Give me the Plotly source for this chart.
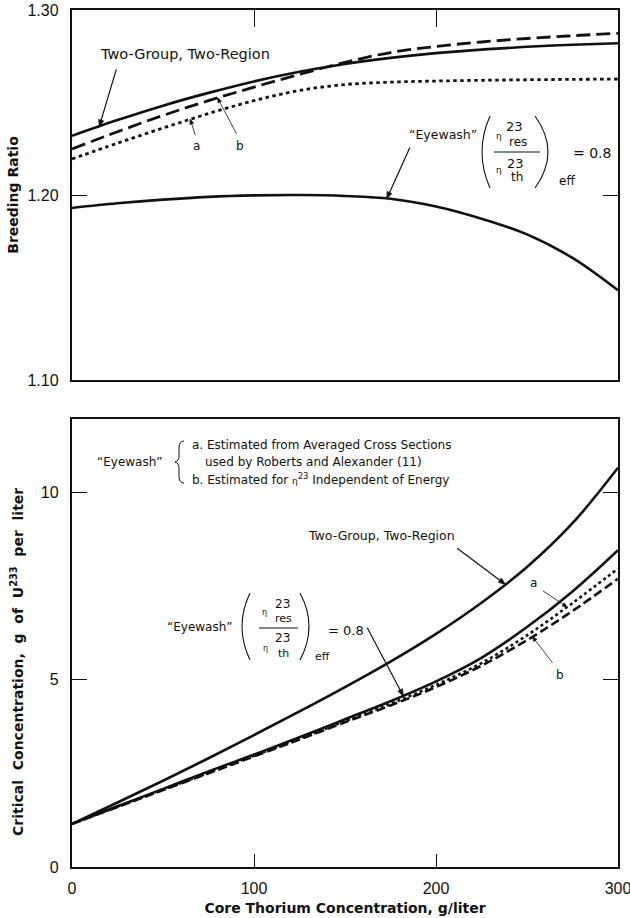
import math
import numpy as np
import plotly.graph_objects as go

# Core thorium concentration, g/liter
thorium = [0, 25, 50, 75, 100, 125, 150, 175, 200, 225, 250, 275, 300]

# Breeding ratio
br_two_group = [1.2320, 1.2405, 1.2483, 1.2552, 1.2614, 1.2666, 1.2708, 1.2741, 1.2767, 1.2786, 1.2801, 1.2812, 1.2820]
br_eyewash_a = [1.2195, 1.2280, 1.2362, 1.2440, 1.2510, 1.2565, 1.2597, 1.2610, 1.2616, 1.2620, 1.2623, 1.2625, 1.2627]
br_eyewash_b = [1.2249, 1.2342, 1.2430, 1.2510, 1.2583, 1.2652, 1.2717, 1.2770, 1.2803, 1.2827, 1.2846, 1.2861, 1.2874]
br_eyewash_08 = [1.1930, 1.1955, 1.1975, 1.1990, 1.1998, 1.2000, 1.1995, 1.1980, 1.1938, 1.1872, 1.1787, 1.1660, 1.1485]

# Critical concentration, g of U-233 per liter
cc_two_group = [1.15, 1.72, 2.30, 2.90, 3.52, 4.15, 4.80, 5.48, 6.22, 7.05, 8.00, 9.17, 10.65]
cc_eyewash_08 = [1.15, 1.62, 2.08, 2.55, 3.00, 3.46, 3.94, 4.42, 4.95, 5.58, 6.40, 7.35, 8.45]
cc_eyewash_a = [1.15, 1.61, 2.06, 2.52, 2.97, 3.42, 3.89, 4.35, 4.86, 5.44, 6.18, 7.04, 7.96]
cc_eyewash_b = [1.15, 1.60, 2.05, 2.50, 2.95, 3.40, 3.86, 4.31, 4.80, 5.37, 6.05, 6.83, 7.69]

br_ticks = [1.10, 1.20, 1.30]
cc_ticks = [0, 5, 10]
x_ticks = [0, 100, 200, 300]

BR_RANGE = [1.10, 1.30]
CC_RANGE = [0, 11.95]
X_RANGE = [0, 300]

W, H = 630, 918
ML, MR, MT, MB = 72, 12, 10, 51
PW, PH = W - ML - MR, H - MT - MB
TOP_PX = (10, 380)     # upper panel, pixel rows (top, bottom)
BOT_PX = (419, 867)    # lower panel, pixel rows (top, bottom)

FONT = "DejaVu Sans"
NUMFONT = "Liberation Sans"
BLACK = "#111111"


def px(x):
    return (x - ML) / PW


def py(y):
    return (H - MB - y) / PH


TOP_DOM = [py(TOP_PX[1]), 1.0]
BOT_DOM = [0.0, py(BOT_PX[0])]

fig = go.Figure()


def add_curve(xs, ys, xa, ya, dash="solid", width=2.6):
    fig.add_trace(go.Scatter(
        x=xs, y=ys, mode="lines", xaxis=xa, yaxis=ya,
        line=dict(color=BLACK, width=width, dash=dash, shape="spline", smoothing=1.0),
        showlegend=False, hoverinfo="skip"))


# upper panel: breeding ratio
add_curve(thorium, br_two_group, "x2", "y2")
add_curve(thorium, br_eyewash_b, "x2", "y2", dash="14px,6px", width=2.8)
add_curve(thorium, br_eyewash_a, "x2", "y2", dash="3.5px,3.5px", width=2.8)
add_curve(thorium, br_eyewash_08, "x2", "y2")

# lower panel: critical concentration
add_curve(thorium, cc_two_group, "x", "y")
add_curve(thorium, cc_eyewash_08, "x", "y")
add_curve(thorium, cc_eyewash_a, "x", "y", dash="3px,3px", width=2.6)
add_curve(thorium, cc_eyewash_b, "x", "y", dash="9px,4px", width=2.6)

annotations = []
shapes = []


def text(s, x, y, size=12, anchor="center", family=FONT, angle=0, bold=False):
    annotations.append(dict(
        text=s, x=px(x), y=py(y), xref="paper", yref="paper",
        xanchor=anchor, yanchor="middle", showarrow=False, textangle=angle,
        font=dict(family=family, size=size, color=BLACK,
                  weight="bold" if bold else "normal")))


def path(points, width=1.1, fill=None):
    d = "M " + " ".join(
        (f"{p} " if isinstance(p, str) else f"{px(p[0]):.5f},{py(p[1]):.5f} ")
        for p in points)
    shp = dict(type="path", path=d.strip(), xref="paper", yref="paper",
               line=dict(color=BLACK, width=width))
    if fill:
        shp["fillcolor"] = fill
    shapes.append(shp)


def to_pixels(xv, v, panel):
    """Pixel position of a data point on the upper or lower panel."""
    x_pix = ML + (xv - X_RANGE[0]) / (X_RANGE[1] - X_RANGE[0]) * PW
    top, bot = TOP_PX if panel == "top" else BOT_PX
    lo, hi = BR_RANGE if panel == "top" else CC_RANGE
    y_pix = bot - (v - lo) / (hi - lo) * (bot - top)
    return x_pix, y_pix


def arrow(xv, series, panel, dx, dy, width=1.2, head=7.0):
    """Leader line from an offset tail to a point on a curve, with a small arrowhead."""
    tx, ty = to_pixels(xv, float(np.interp(xv, thorium, series)), panel)
    sx, sy = tx + dx, ty + dy
    ang = math.atan2(ty - sy, tx - sx)
    wings = [(tx - head * math.cos(ang + s * 0.38), ty - head * math.sin(ang + s * 0.38))
             for s in (1, -1)]
    path([(sx, sy), "L", (tx, ty)], width)
    path([wings[0], "L", (tx, ty), "L", wings[1], "Z"], 0.8, fill=BLACK)


def paren(x_end, apex, y0, y1, width=1.1):
    ctrl = 2 * apex - x_end
    path([(x_end, y0), "Q", (ctrl, (y0 + y1) / 2), (x_end, y1)], width)


def hline(x0, x1, y, width=1.0):
    shapes.append(dict(type="line", x0=px(x0), x1=px(x1), y0=py(y), y1=py(y),
                       xref="paper", yref="paper", line=dict(color=BLACK, width=width)))


# ---- upper panel labels ----
text("Two-Group, Two-Region", 185, 54, 14.5)
arrow(15, br_two_group, "top", 17, -57)
text("a", 196, 146, 12)
arrow(65, br_eyewash_a, "top", 5, 16, width=0.8, head=5)
text("b", 240, 146, 12)
arrow(80, br_eyewash_b, "top", 19, 36, width=0.8, head=5)

text("\u201cEyewash\u201d", 443, 134, 12.5)
paren(490, 482, 116, 188)
paren(535, 548, 116, 188)
text("23", 514, 126, 13)
text("\u03b7", 499, 136, 9)
text("res", 518, 142, 12)
hline(494, 540, 152)
text("23", 515, 163, 13)
text("\u03b7", 499, 170, 9)
text("th", 517, 177, 12)
text("eff", 567, 181, 12)
text("= 0.8", 592, 153, 14)
arrow(173, br_eyewash_08, "top", 23, -51)

# ---- lower panel labels ----
text("\u201cEyewash\u201d", 130, 462, 12)
path([(184, 441), "Q", (179, 441), (179, 448), "L", (179, 456), "Q", (179, 461), (175, 462),
      "Q", (179, 463), (179, 468), "L", (179, 476), "Q", (179, 483), (184, 483)], 1.0)
text("a. Estimated from Averaged Cross Sections", 190, 445, 12, anchor="left")
text("used by Roberts and Alexander (11)", 203, 462, 12, anchor="left")
text("b. Estimated for <span style='font-size:9px'>\u03b7</span><sup>23</sup> Independent of Energy",
     190, 479, 12, anchor="left")

text("Two-Group, Two-Region", 381, 535, 12.5)
arrow(238, cc_two_group, "bottom", -48, -36)
text("a", 533, 583, 12)
arrow(272, cc_eyewash_a, "bottom", -24, -16, width=0.8, head=5)
text("b", 560, 675, 12)
arrow(253, cc_eyewash_b, "bottom", 20, 26, width=0.8, head=5)

text("\u201cEyewash\u201d", 200, 627, 12)
paren(250, 242, 593, 660)
paren(300, 309, 593, 660)
text("23", 282, 604, 12)
text("\u03b7", 264, 612, 8)
text("res", 283, 618, 11)
hline(259, 298, 628)
text("23", 282, 638, 12)
text("\u03b7", 265, 648, 8)
text("th", 283, 654, 11)
text("eff", 322, 656, 11)
text("= 0.8", 346, 630, 13)
arrow(182, cc_eyewash_08, "bottom", -36, -68)

# lower-panel vertical axis title (word-spaced, as set in the figure)
text("Critical&nbsp; Concentration,&nbsp; g&nbsp; of&nbsp; U<sup>233</sup>&nbsp; per&nbsp; liter",
     17, 662, 14, angle=-90, bold=True)

tickfont = dict(family=NUMFONT, size=16, color=BLACK)
titlefont = dict(family=FONT, size=14, color=BLACK, weight="bold")

fig.update_layout(
    width=W, height=H,
    margin=dict(l=ML, r=MR, t=MT, b=MB, autoexpand=False),
    paper_bgcolor="white", plot_bgcolor="white",
    showlegend=False,
    annotations=annotations,
    shapes=shapes,
    xaxis=dict(domain=[0, 1], range=X_RANGE, anchor="y", automargin=False,
               tickvals=x_ticks, ticktext=[str(v) for v in x_ticks],
               ticks="inside", ticklen=13, tickwidth=1, tickcolor=BLACK,
               showline=True, linewidth=2.4, linecolor=BLACK, mirror=True,
               showgrid=False, zeroline=False, tickfont=tickfont,
               ticklabelstandoff=6, ticklabeloverflow="allow",
               title=dict(text="Core Thorium Concentration, g/liter", font=titlefont, standoff=7)),
    yaxis=dict(domain=BOT_DOM, range=CC_RANGE, anchor="x", automargin=False,
               tickvals=cc_ticks, ticktext=[str(v) for v in cc_ticks],
               ticks="inside", ticklen=15, tickwidth=1, tickcolor=BLACK,
               showline=True, linewidth=2.4, linecolor=BLACK, mirror="ticks",
               showgrid=False, zeroline=False, tickfont=tickfont,
               ticklabelstandoff=8),
    xaxis2=dict(domain=[0, 1], range=X_RANGE, anchor="y2", side="top", automargin=False,
                tickvals=[100, 200], showticklabels=False,
                ticks="inside", ticklen=17, tickwidth=1, tickcolor=BLACK,
                showline=True, linewidth=2.4, linecolor=BLACK, mirror=True,
                showgrid=False, zeroline=False),
    yaxis2=dict(domain=TOP_DOM, range=BR_RANGE, anchor="x2", automargin=False,
                tickvals=br_ticks, ticktext=[f"{v:.2f}" for v in br_ticks],
                ticks="inside", ticklen=15, tickwidth=1, tickcolor=BLACK,
                showline=True, linewidth=2.4, linecolor=BLACK, mirror="ticks",
                showgrid=False, zeroline=False, tickfont=tickfont,
                ticklabelstandoff=8,
                title=dict(text="Breeding Ratio", font=titlefont, standoff=6)),
)

fig.write_html("out.html")
